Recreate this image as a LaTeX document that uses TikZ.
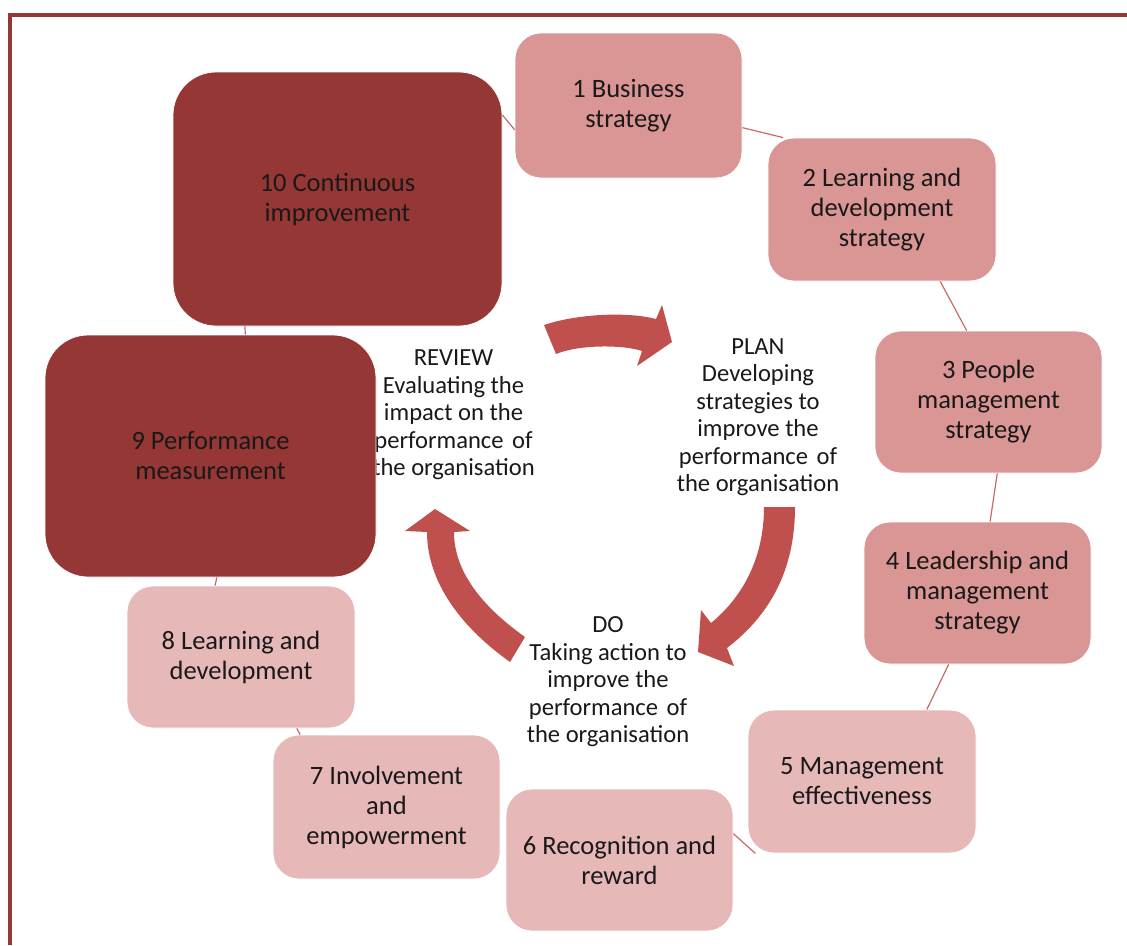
\documentclass[tikz,border=0pt]{standalone}
\usepackage{fontspec}
\setmainfont{Carlito}
\definecolor{darkred}{HTML}{953735}
\definecolor{midpink}{HTML}{D99694}
\definecolor{lightpink}{HTML}{E6B9B8}
\definecolor{arrowred}{HTML}{C0504D}
\definecolor{linkred}{HTML}{C86A68}
\begin{document}
\begin{tikzpicture}[x=1pt,y=-1pt,
  box/.style={rounded corners=26pt, minimum width=227pt, minimum height=143pt,
    align=center, font=\fontsize{26.5}{30}\selectfont, inner sep=0pt,
    draw=white, line width=0.8pt, text=black!90},
  strongbox/.style={box, fill=midpink},
  softbox/.style={box, fill=lightpink},
  bigbox/.style={box, rounded corners=43pt, fill=darkred},
  phase/.style={align=center, font=\fontsize{24.6}{27.5}\selectfont, inner sep=0pt, text=black!90},
  link/.style={draw=linkred, line width=1.2pt},
  cyclearrow/.style={fill=arrowred, draw=none},
  frame/.style={draw=darkred, line width=4pt}]
\useasboundingbox (0,0) rectangle (1127,945);
\draw[frame] (1127,14.5) -- (10,14.5) -- (10,945);

% phase texts (REVIEW sits partly under box 9)
\node[phase] (review) at (453.5,415) {REVIEW\\Evaluating the\\impact on the\\performance\kern3pt{} of\\the organisation};
\node[phase] (plan) at (758,417) {PLAN\\Developing\\strategies to\\improve the\\performance\kern3pt{} of\\the organisation};
\node[phase] (do) at (608,682) {DO\\Taking action to\\improve the\\performance\kern3pt{} of\\the organisation};

% boxes
\node[strongbox, minimum height=145pt] (n1) at (628.5,105.5) {1 Business\\strategy};
\node[strongbox, minimum width=228pt] (n2) at (882,209.5) {2 Learning and\\development\\strategy};
\node[strongbox, minimum height=142pt] (n3) at (988.5,402) {3 People\\management\\strategy};
\node[strongbox, minimum height=142pt] (n4) at (977.5,593) {4 Leadership and\\management\\strategy};
\node[softbox, minimum width=228pt] (n5) at (862,781.5) {5 Management\\effectiveness};
\node[softbox, minimum height=142pt] (n6) at (619.5,860) {6 Recognition and\\reward};
\node[softbox, minimum height=144pt] (n7) at (386.5,807) {7 Involvement\\and\\empowerment};
\node[softbox, minimum width=228pt, minimum height=142pt] (n8) at (241,657) {8 Learning and\\development};
\node[bigbox, minimum width=331pt, minimum height=242pt] (n9) at (210.5,456) {9 Performance\\measurement};
\node[bigbox, minimum width=329pt, minimum height=254pt] (n10) at (337.5,199) {10 Continuous\\improvement};

% connectors in the gaps between neighbouring boxes
\draw[link] (n1.-11.9) -- (n2.144.4);
\draw[link] (n2.-51.7) -- (n3.107);
\draw[link] (n3.-83.4) -- (n4.80.5);
\draw[link] (n4.-112) -- (n5.48.4);
\draw[link] (n6.13.9) -- (n5.-146.7);
\draw[link] (n7.140.2) -- (n8.-52.2);
\draw[link] (n8.110) -- (n9.-87);
\draw[link] (n9.74.7) -- (n10.-126.7);
\draw[link] (n10.27.3) -- (n1.-168.8);

% cycle arrows
\fill[cyclearrow] (544,325) .. controls (580,313) and (630,312) .. (656,319)
  -- (662,305) -- (672,342) -- (637,366) -- (642,351)
  .. controls (625,345) and (580,344) .. (556,354) -- cycle;
\fill[cyclearrow] (795,507) .. controls (795,570) and (770,615) .. (727,648)
  -- (734,666) -- (698,652) -- (701,610) -- (711,623)
  .. controls (745,595) and (764,555) .. (764,507) -- cycle;
\fill[cyclearrow] (525,637) .. controls (480,605) and (454,570) .. (454,532)
  -- (470,531) -- (435,509) -- (405,531) -- (427,532)
  .. controls (427,585) and (465,630) .. (510,662) -- cycle;
\end{tikzpicture}
\end{document}
